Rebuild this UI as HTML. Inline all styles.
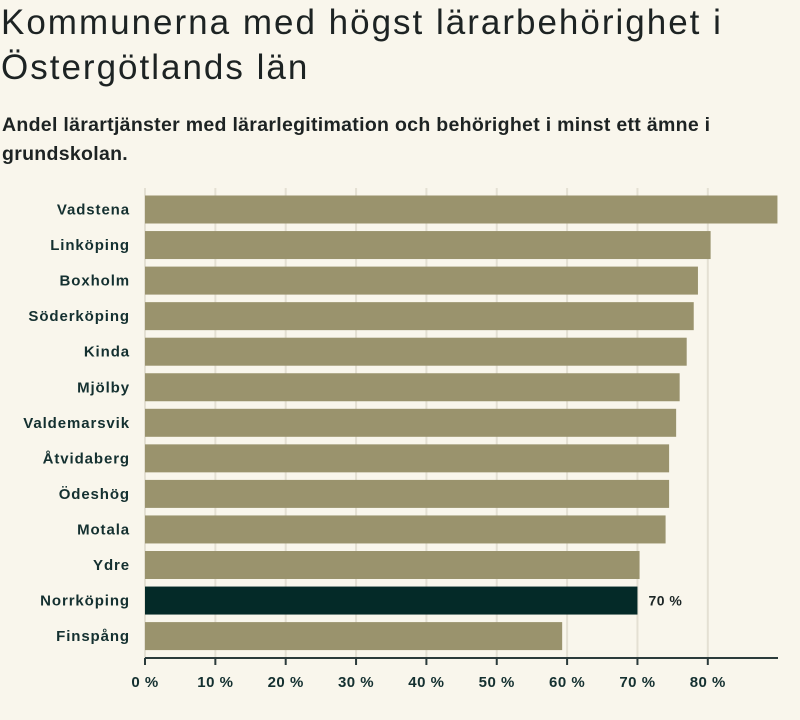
<!DOCTYPE html>
<html><head><meta charset="utf-8"><style>
body{margin:0;width:800px;height:720px;background:#f9f6ec;font-family:"Liberation Sans",sans-serif;color:#1d2626;overflow:hidden}
h1{position:absolute;left:1px;top:0;margin:0;font-size:35px;font-weight:normal;line-height:45px;letter-spacing:2px;color:#1d2323;white-space:nowrap}
h2{position:absolute;left:2px;top:111px;margin:0;font-size:19.5px;font-weight:bold;line-height:29px;letter-spacing:0.3px;color:#1d2323;white-space:nowrap}
svg{position:absolute;left:0;top:0}
</style></head><body>
<h1>Kommunerna med högst lärarbehörighet i<br>Östergötlands län</h1>
<h2>Andel lärartjänster med lärarlegitimation och behörighet i minst ett ämne i<br>grundskolan.</h2>
<svg id="c" width="800" height="720"></svg>
<script>
const categories=["Vadstena","Linköping","Boxholm","Söderköping","Kinda","Mjölby","Valdemarsvik","Åtvidaberg","Ödeshög","Motala","Ydre","Norrköping","Finspång"];
const values=[89.9,80.4,78.6,78.0,77.0,76.0,75.5,74.5,74.5,74.0,70.3,70.0,59.3];
const ticks=[0,10,20,30,40,50,60,70,80];
const highlight="Norrköping";
const NS="http://www.w3.org/2000/svg";
const svg=document.getElementById('c');
const x0=145,pxPer=7.035,y0=191.5,step=35.55,bh=28;
const xs=v=>x0+v*pxPer;
const ys=i=>y0+i*step+4;
function mk(t,a){const e=document.createElementNS(NS,t);for(const k in a)e.setAttribute(k,a[k]);svg.appendChild(e);return e;}
ticks.forEach(t=>{
 const g=mk('line',{x1:xs(t),x2:xs(t),y1:188,y2:658,stroke:'#e4e0d3','stroke-width':2});
 
 
});
categories.forEach((c,i)=>{
 const r=mk('rect',{x:x0,y:ys(i),width:xs(values[i])-x0,height:bh,fill:c===highlight?'#042a28':'#9a936d'});
 
 
 const l=mk('text',{x:130,y:ys(i)+bh/2+5,'text-anchor':'end','font-size':15,'letter-spacing':0.9,fill:'#143030','font-weight':'bold','font-family':'Liberation Sans,sans-serif'});
 l.textContent=c;
 
 
 if(c===highlight){
  const v=mk('text',{x:xs(values[i])+11,y:ys(i)+bh/2+5,'font-size':14,'letter-spacing':0.5,fill:'#1d2626','font-weight':'bold','font-family':'Liberation Sans,sans-serif'});
  v.textContent=Math.round(values[i])+' %';
  
  
 }
});
const ax=mk('line',{x1:x0,x2:778,y1:658,y2:658,stroke:'#2b3b3b','stroke-width':2});


ticks.forEach(t=>{
 const k=mk('line',{x1:xs(t),x2:xs(t),y1:658,y2:665,stroke:'#2b3b3b','stroke-width':2});
 
 
 const tl=mk('text',{x:xs(t),y:687,'text-anchor':'middle','font-size':15,'letter-spacing':0.5,fill:'#143030','font-weight':'bold','font-family':'Liberation Sans,sans-serif'});
 tl.textContent=t+' %';
 
 
});
</script>
</body></html>
